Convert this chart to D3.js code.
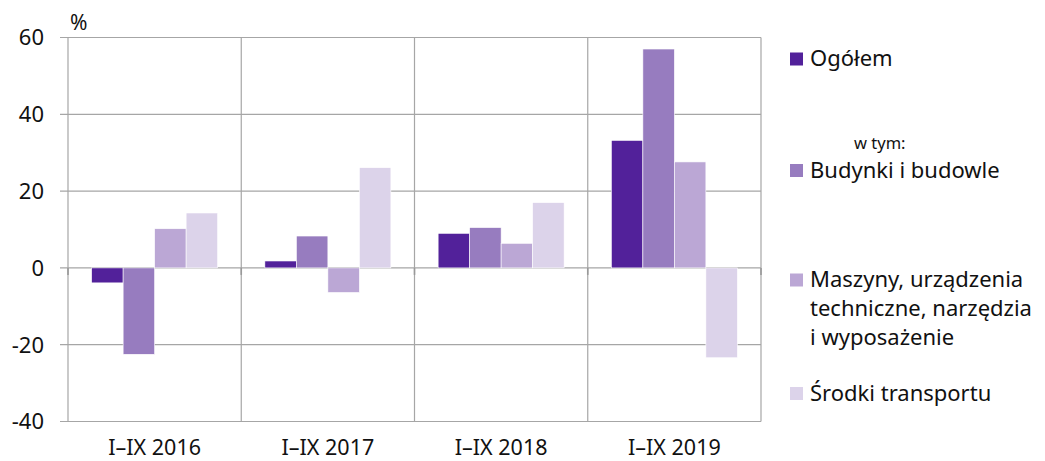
<!DOCTYPE html>
<html>
<head>
<meta charset="utf-8">
<script src="https://cdn.jsdelivr.net/npm/d3@7"></script>
<style>
  body { margin: 0; background: #fff; }
  text { font-family: "Noto Sans", "Open Sans", sans-serif; fill: #111; }
</style>
</head>
<body>
<svg id="chart" width="1045" height="461"></svg>
<script>
// data
var categories = ["I–IX 2016", "I–IX 2017", "I–IX 2018", "I–IX 2019"];
var seriesNames = ["Ogółem", "Budynki i budowle", "Maszyny, urządzenia techniczne, narzędzia i wyposażenie", "Środki transportu"];
var ogolem   = [-3.9, 1.8, 9.0, 33.2];
var budynki  = [-22.5, 8.3, 10.5, 57.0];
var maszyny  = [10.2, -6.4, 6.4, 27.6];
var srodki   = [14.3, 26.1, 17.0, -23.4];
var yTicks = [-40, -20, 0, 20, 40, 60];
var colors = ["#52219a", "#977cbf", "#bba7d5", "#dcd3ea"];

var series = [ogolem, budynki, maszyny, srodki];

var svg = d3.select("#chart");
var plotLeft = 68, plotRight = 761, plotTop = 37.5, plotBottom = 421.5;

var x = d3.scaleBand().domain(categories).range([plotLeft, plotRight]).paddingInner(0).paddingOuter(0);
var y = d3.scaleLinear().domain([-40, 60]).range([plotBottom, plotTop]);

// bars sit inside each band with a 150% gap
var barW = x.bandwidth() / 5.5;
var x1 = d3.scaleBand().domain(d3.range(4))
    .range([0.75 * barW, 4.75 * barW]).padding(0);

var grid = "#a6a6a6";

// horizontal grid
svg.append("g").selectAll("line")
  .data(yTicks)
  .enter().append("line")
    .attr("x1", plotLeft - 8).attr("x2", plotRight)
    .attr("y1", function(d) { return y(d); })
    .attr("y2", function(d) { return y(d); })
    .attr("stroke", grid).attr("stroke-width", 1.2);

// vertical separators
var seps = categories.map(function(c) { return x(c); }).concat([plotRight]);
svg.append("g").selectAll("line")
  .data(seps)
  .enter().append("line")
    .attr("x1", function(d) { return d; }).attr("x2", function(d) { return d; })
    .attr("y1", plotTop).attr("y2", plotBottom)
    .attr("stroke", grid).attr("stroke-width", 1.2);

// small ticks under zero line
svg.append("g").selectAll("line")
  .data(seps)
  .enter().append("line")
    .attr("x1", function(d) { return d; }).attr("x2", function(d) { return d; })
    .attr("y1", y(0)).attr("y2", y(0) + 7)
    .attr("stroke", "#999").attr("stroke-width", 1.6);

// bars
series.forEach(function(vals, s) {
  svg.append("g").selectAll("rect")
    .data(vals)
    .enter().append("rect")
      .attr("x", function(d, i) { return x(categories[i]) + x1(s); })
      .attr("width", x1.bandwidth())
      .attr("y", function(d) { return y(Math.max(0, d)); })
      .attr("height", function(d) { return Math.abs(y(d) - y(0)); })
      .attr("fill", colors[s])
      .attr("stroke", "#fff").attr("stroke-width", 0.6);
});

// y labels
svg.append("g").selectAll("text")
  .data(yTicks)
  .enter().append("text")
    .attr("x", 44).attr("y", function(d) { return y(d); })
    .attr("dy", "0.36em")
    .attr("text-anchor", "end")
    .style("font-size", "22px")
    .text(function(d) { return d; });

svg.append("text").attr("x", 70).attr("y", 30)
  .style("font-size", "21px").text("%");

// category labels
svg.append("g").selectAll("text")
  .data(categories)
  .enter().append("text")
    .attr("x", function(d) { return x(d) + x.bandwidth() / 2; })
    .attr("y", 455)
    .attr("text-anchor", "middle")
    .style("font-size", "21.5px")
    .text(function(d) { return d; });

// legend
var legend = [
  {lines: ["Ogółem"], sq: 59},
  {lines: ["Budynki i budowle"], sq: 170.5},
  {lines: ["Maszyny, urządzenia", "techniczne, narzędzia", "i wyposażenie"], sq: 280},
  {lines: ["Środki transportu"], sq: 393.5}
];
legend.forEach(function(l, i) {
  svg.append("rect").attr("x", 790).attr("y", l.sq - 6.5)
    .attr("width", 13).attr("height", 13).attr("fill", colors[i]);
  var t = svg.append("text").attr("x", 810).attr("y", l.sq + 7)
    .style("font-size", "22px");
  l.lines.forEach(function(s, k) {
    t.append("tspan").attr("x", 810).attr("dy", k === 0 ? 0 : 28.8).text(s);
  });
});
svg.append("text").attr("x", 854).attr("y", 149)
  .style("font-size", "16.5px").text("w tym:");
</script>
</body>
</html>
